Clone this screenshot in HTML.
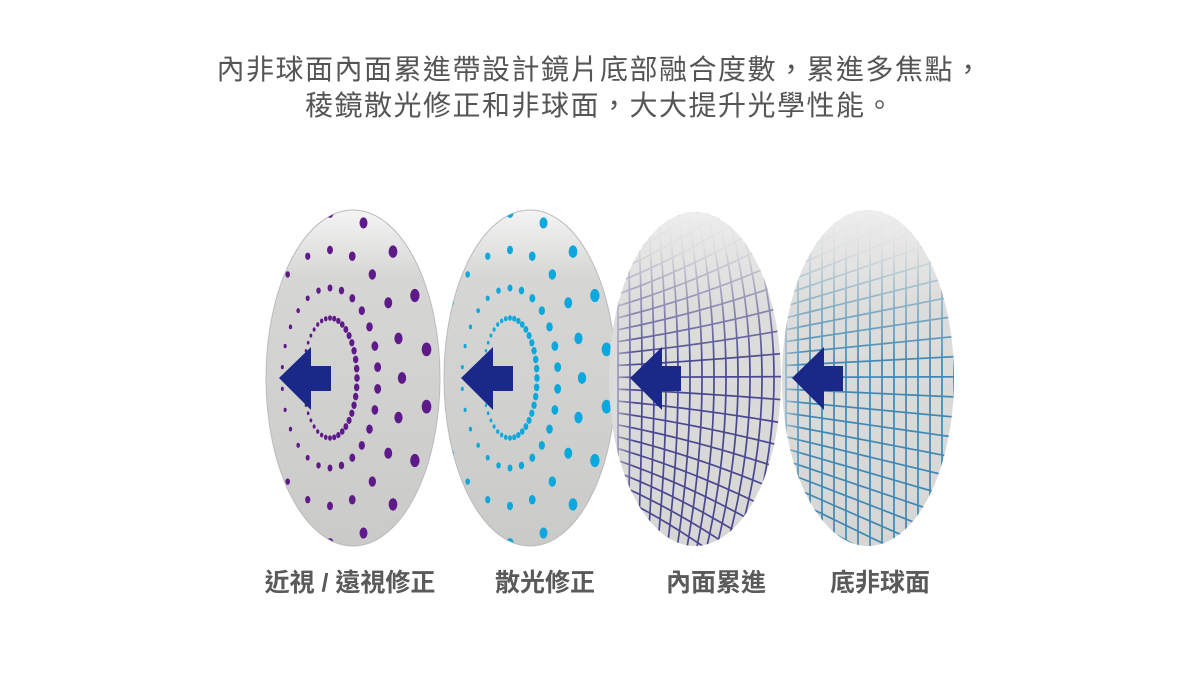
<!DOCTYPE html>
<html><head><meta charset="utf-8">
<style>
html,body{margin:0;padding:0;background:#fff;}
body{width:1200px;height:700px;position:relative;overflow:hidden;font-family:"Liberation Sans","Noto Sans CJK TC",sans-serif;color:#555;}
.t{position:absolute;left:0;width:1200px;text-align:center;font-size:28px;line-height:36px;letter-spacing:1.5px;}
.l{position:absolute;top:565px;font-size:25px;line-height:36px;white-space:nowrap;transform:translateX(-50%);font-weight:bold;color:#5a5a5a;}
svg{position:absolute;left:0;top:0;}
</style></head><body>
<div class="t" style="top:52px">內非球面內面累進帶設計鏡片底部融合度數，累進多焦點，</div>
<div class="t" style="top:88px">稜鏡散光修正和非球面，大大提升光學性能。</div>
<svg id="s" width="1200" height="700" xmlns="http://www.w3.org/2000/svg">
<defs>
<linearGradient id="g" x1="0" y1="0" x2="0" y2="1">
<stop offset="0" stop-color="#f4f4f4"/><stop offset="0.2" stop-color="#d6d6d4"/><stop offset="1" stop-color="#cacac8"/>
</linearGradient>
<linearGradient id="g2" x1="0" y1="0" x2="0" y2="1">
<stop offset="0" stop-color="#f7f7f7"/><stop offset="0.25" stop-color="#dddddc"/><stop offset="1" stop-color="#d6d6d5"/>
</linearGradient>
<linearGradient id="fade" x1="0" y1="0" x2="0" y2="1">
<stop offset="0" stop-color="#eeeeee" stop-opacity="1"/><stop offset="0.12" stop-color="#e4e4e3" stop-opacity="0.95"/><stop offset="0.3" stop-color="#dddddc" stop-opacity="0.4"/><stop offset="0.45" stop-color="#dddddc" stop-opacity="0"/>
</linearGradient>
<linearGradient id="fadeL" x1="0" y1="0" x2="1" y2="0">
<stop offset="0" stop-color="#dddddc" stop-opacity="0.7"/><stop offset="0.12" stop-color="#dddddc" stop-opacity="0"/>
</linearGradient>
<clipPath id="c1"><ellipse cx="353" cy="378" rx="87" ry="168"/></clipPath>
<clipPath id="c2"><ellipse cx="530" cy="378" rx="86" ry="168"/></clipPath>
<clipPath id="c3"><ellipse cx="695" cy="379" rx="86" ry="167"/></clipPath>
<clipPath id="c4"><ellipse cx="868" cy="378" rx="86" ry="168"/></clipPath>
</defs>
<ellipse cx="353" cy="378" rx="87" ry="168" fill="url(#g)" stroke="#bbb" stroke-width="1"/>
<g id="d1" clip-path="url(#c1)"></g>
<ellipse cx="530" cy="378" rx="86" ry="168" fill="url(#g)" stroke="#bbb" stroke-width="1"/>
<g id="d2" clip-path="url(#c2)"></g>
<ellipse cx="695" cy="379" rx="86" ry="167" fill="url(#g2)"/>
<g id="d3" clip-path="url(#c3)"></g>
<ellipse cx="868" cy="378" rx="86" ry="168" fill="url(#g2)"/>
<g id="d4" clip-path="url(#c4)"></g>
<g fill="#1a2888">
<polygon points="279,378 311,347 311,366 331,366 331,391 311,391 311,410"/>
<polygon points="461,378 493,347 493,366 513,366 513,391 493,391 493,410"/>
<polygon points="630,378 662,347 662,366 681,366 681,391 662,391 662,410"/>
<polygon points="792,378 824,347 824,366 843,366 843,391 824,391 824,410"/>
</g>
</svg>
<div class="l" style="left:350px">近視 / 遠視修正</div>
<div class="l" style="left:545px">散光修正</div>
<div class="l" style="left:716px">內面累進</div>
<div class="l" style="left:880px">底非球面</div>
<script>
var NS="http://www.w3.org/2000/svg";
function el(p,n,a){var e=document.createElementNS(NS,n);for(var k in a)e.setAttribute(k,a[k]);p.appendChild(e);return e;}
function dots(id,cx,cy,col){
 var g=document.getElementById(id);
 var rings=[[27,60,40],[48,90,26],[72,128,20],[98,165,18],[125,205,18]];
 rings.forEach(function(r,i){
  for(var k=0;k<r[2];k++){
   var a=2*Math.PI*(k+0.5*(i%2))/r[2];
   var x=cx+r[0]*Math.cos(a), y=cy+r[1]*Math.sin(a);
   var s=(2.3+i*0.6)*(1+0.4*Math.cos(a));
   el(g,"ellipse",{cx:x,cy:y,rx:s*0.85,ry:s*1.2,fill:col});
  }
 });
}
dots("d1",330,378,"#5f1a8a");
dots("d2",510,378,"#0aa8dc");
function grid(id,x0,x1,y0,y1,col,warp){
 var g=document.getElementById(id);
 for(var x=x0;x<=x1;x+=12){
  var d="";
  for(var y=y0;y<=y1;y+=6){
   var t=(y-378)/170, dx=warp?-(x-x0)*0.06*t*t*3:0;
   d+=(d?"L":"M")+(x+dx)+","+y;
  }
  el(g,"path",{d:d,stroke:col,"stroke-width":1.7,fill:"none"});
 }
 for(var y=y0;y<=y1;y+=17){
  var d="";
  for(var x=x0;x<=x1;x+=6){
   var u=(x-x0)/(x1-x0);
   var yy=378+(y-378)*(0.7+0.5*u);
   if(warp)yy+=(y-378)*0.2*u*u;
   d+=(d?"L":"M")+x+","+yy;
  }
  el(g,"path",{d:d,stroke:col,"stroke-width":1.7,fill:"none"});
 }
 el(g,"rect",{x:x0-20,y:210,width:x1-x0+40,height:340,fill:"url(#fade)"});
 el(g,"rect",{x:x0-5,y:210,width:x1-x0+10,height:340,fill:"url(#fadeL)"});
}
grid("d3",618,790,190,570,"#4a4890",true);
grid("d4",786,960,190,570,"#3f88b4",false);
</script>
</body></html>
